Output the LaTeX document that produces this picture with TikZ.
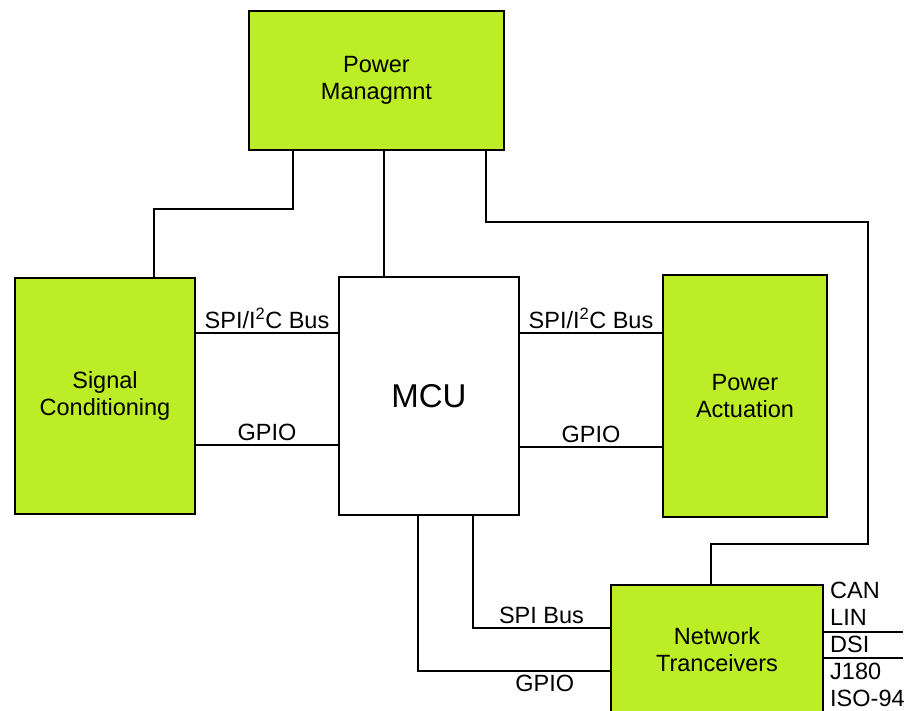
\documentclass[tikz,border=0pt]{standalone}
\usepackage{fontspec}
\setmainfont{Liberation Sans}
\usetikzlibrary{calc}
\definecolor{limegreen}{RGB}{188,237,38}
\begin{document}
\begin{tikzpicture}[x=1pt,y=-1pt]
		\fontsize{23.5}{27}\selectfont
		\tikzstyle{green_block} = [draw, line width=2pt, rectangle, fill=limegreen, align=center];
		\tikzstyle{white_block} = [draw, line width=2pt, rectangle, fill=white, align=center];
		\tikzstyle{wire} = [line width=1.7pt];
		\tikzstyle{bus_label} = [inner sep=3pt];

		\useasboundingbox (0,0) rectangle (917,710);

		\node[green_block, minimum width=255, minimum height=139] (pwr) at (376.5,80.5) {Power\\Managmnt};
		
		\node[green_block, minimum width=180, minimum height=236] (sig) at (105,396) {Signal\\Conditioning};
		\node[white_block, minimum width=180, minimum height=238, font=\fontsize{33}{36}\selectfont] (mcu) at (429,396) {MCU};
		\node[green_block, minimum width=164, minimum height=242] (act) at (745,396) {Power\\Actuation};
		
		\node[green_block, minimum width=212, minimum height=130] (net) at (717,650) {Network\\Tranceivers};
		
		\node[anchor=north west, align=left, inner sep=0] (buses) at ([xshift=6pt,yshift=2pt]net.north east) {CAN\\LIN\\DSI\\J180\\ISO-94};
		
		% power supply lines
		\draw[wire] ([xshift=-83.5pt]pwr.south) -- ++(0,58) -| ([xshift=49pt]sig.north);
		\draw[wire] ([xshift=7.5pt]pwr.south) -- ([xshift=-45pt]mcu.north);
		\draw[wire] ([xshift=109.5pt]pwr.south) -- ++(0,71) -- ++(382,0) -- ++(0,322) -| ([xshift=-6pt]net.north);
		
		% buses
		\draw[wire] ([yshift=63pt]sig.east) -- ([yshift=63pt]mcu.west) node[bus_label, midway, above] {SPI/I\textsuperscript{2}C Bus};
		\draw[wire] ([yshift=-49pt]sig.east) -- ([yshift=-49pt]mcu.west) node[bus_label, midway, above] {GPIO};
		\draw[wire] ([yshift=63pt]mcu.east) -- ([yshift=63pt]act.west) node[bus_label, midway, above] {SPI/I\textsuperscript{2}C Bus};
		\draw[wire] ([yshift=-51pt]mcu.east) -- ([yshift=-51pt]act.west) node[bus_label, midway, above] {GPIO};
		
		\draw[wire] ([xshift=44pt]mcu.south) |- ([yshift=22pt]net.west) node[bus_label, pos=0.75, above] {SPI Bus};
		\draw[wire] ([xshift=-11pt]mcu.south) |- ([yshift=-21pt]net.west) node[bus_label, pos=0.83, below] {GPIO};
		
		\draw[wire] ([yshift=18pt]net.east) -- ++(79,0);
		\draw[wire] ([yshift=-8pt]net.east) -- ++(79,0);
	\end{tikzpicture}
\end{document}
